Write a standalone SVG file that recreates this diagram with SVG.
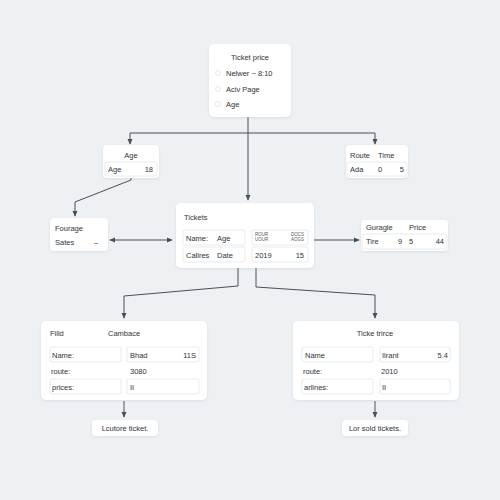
<svg xmlns="http://www.w3.org/2000/svg" width="500" height="500" viewBox="0 0 500 500">
<defs>
<marker id="ah" viewBox="0 0 8 8" refX="7" refY="4" markerWidth="6" markerHeight="6" orient="auto-start-reverse">
<path d="M0,0.5 L8,4 L0,7.5 z" fill="#4a4f55"/>
</marker>
<filter id="sh" x="-10%" y="-10%" width="120%" height="130%">
<feDropShadow dx="0" dy="1" stdDeviation="1.5" flood-color="#9aa4ae" flood-opacity="0.25"/>
</filter>
</defs>
<style>
.card{fill:#ffffff;filter:url(#sh)}
.cell{fill:#ffffff;stroke:#e3e6ea;stroke-width:0.8}
.t{font-family:"Liberation Sans",Arial,sans-serif;font-size:7.5px;fill:#2f3338}
.s{font-family:"Liberation Sans",Arial,sans-serif;font-size:4.5px;fill:#555}
.c{fill:none;stroke:#4a4f55;stroke-width:1}
.r{text-anchor:end}
.m{text-anchor:middle}
.dot{fill:#ffffff;stroke:#dde1e5;stroke-width:0.8}
</style>
<rect width="500" height="500" fill="#eef1f4"/>

<g id="connectors">
<path class="c" d="M248,117 V200" marker-end="url(#ah)"/>
<path class="c" d="M248,133 H130 V144" marker-end="url(#ah)"/>
<path class="c" d="M248,133 H375 V144" marker-end="url(#ah)"/>
<path class="c" d="M131,177 L131,180 L75,202 V216" marker-end="url(#ah)"/>
<path class="c" d="M110,240 H172" marker-start="url(#ah)" marker-end="url(#ah)"/>
<path class="c" d="M314,240 H359" marker-end="url(#ah)"/>
<path class="c" d="M238,268 V286 L124,296 V318" marker-end="url(#ah)"/>
<path class="c" d="M256,268 V287 L375,295 V318" marker-end="url(#ah)"/>
<path class="c" d="M124,401 V417" marker-end="url(#ah)"/>
<path class="c" d="M375,401 V417" marker-end="url(#ah)"/>
</g>

<g id="node-ticket-price">
<rect class="card" x="209" y="44" width="82" height="73" rx="5"/>
<text class="t m" x="250" y="60">Ticket price</text>
<circle class="dot" cx="218" cy="73" r="2.5"/>
<text class="t" x="226" y="75.5">Nelwer ~ 8:10</text>
<circle class="dot" cx="218" cy="89" r="2.5"/>
<text class="t" x="226" y="91.5">Aciv Page</text>
<circle class="dot" cx="218" cy="104" r="2.5"/>
<text class="t" x="226" y="106.5">Age</text>
</g>

<g id="node-age">
<rect class="card" x="103" y="145" width="56" height="33" rx="4"/>
<text class="t m" x="131" y="158">Age</text>
<rect class="cell" x="105" y="162" width="52" height="14" rx="2"/>
<text class="t" x="108" y="172">Age</text>
<text class="t r" x="153" y="172">18</text>
</g>

<g id="node-route">
<rect class="card" x="346" y="145" width="62" height="33" rx="4"/>
<text class="t" x="350" y="158">Route</text>
<text class="t" x="378" y="158">Time</text>
<rect class="cell" x="347" y="162" width="60" height="14" rx="2"/>
<text class="t" x="350" y="172">Ada</text>
<text class="t" x="378" y="172">0</text>
<text class="t r" x="404" y="172">5</text>
</g>

<g id="node-fourage">
<rect class="card" x="50" y="218" width="58" height="33" rx="4"/>
<text class="t" x="55" y="231">Fourage</text>
<text class="t" x="55" y="245">Sates</text>
<text class="t" x="94" y="245">–</text>
</g>

<g id="node-tickets">
<rect class="card" x="176" y="203" width="138" height="65" rx="5"/>
<text class="t" x="184" y="220">Tickets</text>
<rect class="cell" x="183" y="230" width="62" height="15" rx="2"/>
<rect class="cell" x="183" y="247" width="62" height="15" rx="2"/>
<rect class="cell" x="252" y="230" width="56" height="15" rx="2"/>
<rect class="cell" x="252" y="247" width="56" height="15" rx="2"/>
<text class="t" x="186" y="241">Name:</text>
<text class="t" x="217" y="241">Age</text>
<text class="t" x="186" y="258">Callres</text>
<text class="t" x="217" y="258">Date</text>
<text class="s" x="255" y="236">ROUR</text>
<text class="s" x="255" y="241">UOUR</text>
<text class="s r" x="304" y="236">DOCS</text>
<text class="s r" x="304" y="241">AOGS</text>
<text class="t" x="255" y="258">2019</text>
<text class="t r" x="304" y="258">15</text>
</g>

<g id="node-guragle">
<rect class="card" x="361" y="220" width="87" height="31" rx="4"/>
<text class="t" x="366" y="230">Guragle</text>
<text class="t" x="409" y="230">Price</text>
<rect class="cell" x="362" y="234" width="85" height="15" rx="2"/>
<text class="t" x="366" y="244">Tire</text>
<text class="t" x="398" y="244">9</text>
<text class="t" x="409" y="244">5</text>
<text class="t r" x="444" y="244">44</text>
</g>

<g id="node-filld">
<rect class="card" x="41" y="321" width="166" height="79" rx="5"/>
<text class="t" x="50" y="336">Filld</text>
<text class="t" x="108" y="336">Cambace</text>
<rect class="cell" x="50" y="347" width="71" height="15" rx="2"/>
<rect class="cell" x="127" y="347" width="72" height="15" rx="2"/>
<text class="t" x="52" y="358">Name:</text>
<text class="t" x="130" y="358">Bhad</text>
<text class="t r" x="196" y="358">11S</text>
<text class="t" x="51" y="374">route:</text>
<text class="t" x="130" y="374">3080</text>
<rect class="cell" x="50" y="379" width="71" height="15" rx="2"/>
<rect class="cell" x="127" y="379" width="72" height="15" rx="2"/>
<text class="t" x="52" y="390">prices:</text>
<text class="t" x="130" y="390">II</text>
</g>

<g id="node-ticke-trirce">
<rect class="card" x="293" y="321" width="166" height="79" rx="5"/>
<text class="t m" x="375" y="336">Ticke trirce</text>
<rect class="cell" x="302" y="347" width="71" height="15" rx="2"/>
<rect class="cell" x="380" y="347" width="70" height="15" rx="2"/>
<text class="t" x="305" y="358">Name</text>
<text class="t" x="382" y="358">Ilrant</text>
<text class="t r" x="448" y="358">5.4</text>
<text class="t" x="303" y="374">route:</text>
<text class="t" x="381" y="374">2010</text>
<rect class="cell" x="302" y="379" width="71" height="15" rx="2"/>
<rect class="cell" x="380" y="379" width="70" height="15" rx="2"/>
<text class="t" x="304" y="390">arlines:</text>
<text class="t" x="382" y="390">II</text>
</g>

<g id="node-lcutore">
<rect class="card" x="92" y="420" width="66" height="16" rx="4"/>
<text class="t m" x="125" y="431">Lcutore ticket.</text>
</g>

<g id="node-lor-sold">
<rect class="card" x="342" y="420" width="66" height="16" rx="4"/>
<text class="t m" x="375" y="431">Lor sold tickets.</text>
</g>
</svg>
